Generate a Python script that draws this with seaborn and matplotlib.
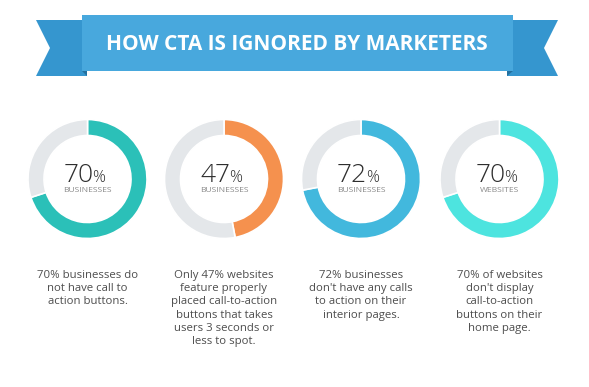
import matplotlib.pyplot as plt
from matplotlib.patches import Polygon, Rectangle
import seaborn as sns

title = "HOW CTA IS IGNORED BY MARKETERS"
percents = [70, 47, 72, 70]
units = ["BUSINESSES", "BUSINESSES", "BUSINESSES", "WEBSITES"]
ring_colors = ["#2bc0b8", "#f5914e", "#42b8dd", "#4de4df"]
descriptions = [
    "70% businesses do\nnot have call to\naction buttons.",
    "Only 47% websites\nfeature properly\nplaced call-to-action\nbuttons that takes\nusers 3 seconds or\nless to spot.",
    "72% businesses\ndon't have any calls\nto action on their\ninterior pages.",
    "70% of websites\ndon't display\ncall-to-action\nbuttons on their\nhome page.",
]

sns.set_theme(style="white")
plt.rcParams["font.family"] = ["Open Sans", "DejaVu Sans"]

W, H = 589, 387
fig = plt.figure(figsize=(W / 100, H / 100), dpi=100)
ax = fig.add_axes([0, 0, 1, 1])


def Y(y):
    # pixel row (from top) -> data y
    return H - y


# ribbon banner
tail_col = "#3596cf"
ax.add_patch(Polygon([(36, Y(20)), (87, Y(20)), (87, Y(76)), (36, Y(76)), (50, Y(48))],
                     closed=True, color=tail_col, lw=0))
ax.add_patch(Polygon([(558, Y(20)), (507, Y(20)), (507, Y(76)), (558, Y(76)), (544, Y(48))],
                     closed=True, color=tail_col, lw=0))
ax.add_patch(Polygon([(82, Y(71)), (87, Y(71)), (87, Y(76))], closed=True, color="#23709f", lw=0))
ax.add_patch(Polygon([(513, Y(71)), (507, Y(71)), (507, Y(76))], closed=True, color="#23709f", lw=0))
ax.add_patch(Rectangle((82, Y(71)), 431, 56, color="#48a8dd", lw=0))
ax.text(297, Y(44), title, color="white", fontsize=15, fontweight="bold",
        ha="center", va="center")

centers = [87.5, 224, 361, 499.5]
cy = 179
for cx, p, unit, col, desc in zip(centers, percents, units, ring_colors, descriptions):
    ax.pie([p, 100 - p], colors=[col, "#e4e7ea"], startangle=90, counterclock=False,
           center=(cx, Y(cy)), radius=59.5, frame=True,
           wedgeprops=dict(width=16, edgecolor="white", linewidth=1.2))
    ax.text(cx + 6, Y(182), str(p), fontsize=19, fontweight="light", color="#2e2e2e",
            ha="right", va="baseline")
    ax.text(cx + 5, Y(182), "%", fontsize=11.5, fontweight="light", color="#2e2e2e",
            ha="left", va="baseline")
    ax.text(cx, Y(190.5), unit, fontsize=6.1, color="#8a8a8a", ha="center", va="center")
    ax.text(cx, Y(270), desc, fontsize=8.2, color="#4d4d4d", ha="center", va="top",
            linespacing=1.28)

ax.set_xlim(0, W)
ax.set_ylim(0, H)
ax.set_aspect("equal")
ax.axis("off")

fig.savefig("out.png", dpi=100, facecolor="white")
